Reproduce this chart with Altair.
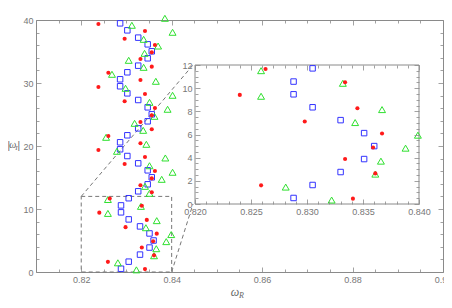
import altair as alt
import pandas as pd

# ---------------- data ----------------
red_x = [0.8341, 0.8259, 0.8361, 0.8334, 0.8359, 0.8367, 0.8298, 0.8345, 0.8240, 0.8334, 0.8263,
         0.8356, 0.8331, 0.8356, 0.8363, 0.8296, 0.8341, 0.8238, 0.8331, 0.8260, 0.8356, 0.8331,
         0.8356, 0.8363, 0.8296, 0.8341, 0.8238, 0.8331, 0.8260, 0.8356, 0.8331, 0.8356, 0.8363,
         0.8296, 0.8341, 0.8238]
red_y = [0.46, 1.61, 2.64, 3.88, 4.88, 6.09, 7.12, 8.27, 9.42, 10.51, 11.66,
         12.65, 13.76, 14.87, 16.03, 17.14, 18.25, 19.37, 20.43, 21.59, 22.65, 23.81,
         24.87, 26.03, 27.10, 28.25, 29.37, 30.48, 31.63, 32.59, 33.81, 34.87, 36.03,
         37.03, 38.25, 39.37]

blue_x = [0.8288, 0.8305, 0.8330, 0.8351, 0.8360, 0.8351, 0.8330, 0.8305, 0.8288, 0.8288, 0.8305,
          0.8326, 0.8347, 0.8356, 0.8347, 0.8326, 0.8302, 0.8286, 0.8286, 0.8302, 0.8326, 0.8347,
          0.8356, 0.8347, 0.8326, 0.8302, 0.8286, 0.8286, 0.8302, 0.8326, 0.8347, 0.8356, 0.8347,
          0.8326, 0.8302, 0.8286]
blue_y = [0.52, 1.64, 2.76, 3.88, 5.00, 6.12, 7.24, 8.35, 9.47, 10.57, 11.71,
          12.81, 13.92, 15.03, 16.14, 17.25, 18.41, 19.48, 20.59, 21.70, 22.80, 23.92,
          25.03, 26.14, 27.30, 28.36, 29.48, 30.59, 31.70, 32.75, 33.92, 35.03, 36.14,
          37.20, 38.36, 39.47]

green_x = [0.8322, 0.8281, 0.8361, 0.8366, 0.8388, 0.8399, 0.8343, 0.8367, 0.8259, 0.8332, 0.8259,
           0.8351, 0.8341, 0.8378, 0.8402, 0.8351, 0.8386, 0.8279, 0.8344, 0.8255, 0.8337, 0.8318,
           0.8362, 0.8391, 0.8351, 0.8402, 0.8298, 0.8365, 0.8268, 0.8338, 0.8305, 0.8340, 0.8370,
           0.8338, 0.8402, 0.8312, 0.8385]
green_y = [0.34, 1.46, 2.58, 3.70, 4.82, 5.94, 7.03, 8.15, 9.30, 10.42, 11.51,
           12.49, 13.60, 14.71, 15.83, 16.87, 18.10, 19.16, 20.27, 21.38, 22.49, 23.60,
           24.71, 25.83, 26.93, 28.05, 29.16, 30.27, 31.38, 32.49, 33.60, 34.71, 35.87,
           36.93, 38.05, 39.16, 40.27]

# axis ticks
main_x_ticks = [0.810, 0.815, 0.820, 0.825, 0.830, 0.835, 0.840, 0.845, 0.850, 0.855, 0.860,
                0.865, 0.870, 0.875, 0.880, 0.885, 0.890, 0.895, 0.900]
main_y_ticks = [0, 2, 4, 6, 8, 10, 12, 14, 16, 18, 20, 22, 24, 26, 28, 30, 32, 34, 36, 38, 40]
inset_x_ticks = [0.820, 0.821, 0.822, 0.823, 0.824, 0.825, 0.826, 0.827, 0.828, 0.829, 0.830,
                 0.831, 0.832, 0.833, 0.834, 0.835, 0.836, 0.837, 0.838, 0.839, 0.840]
inset_y_ticks = [0, 0.5, 1, 1.5, 2, 2.5, 3, 3.5, 4, 4.5, 5, 5.5, 6, 6.5, 7, 7.5, 8, 8.5, 9, 9.5,
                 10, 10.5, 11, 11.5, 12]

# zoom region & domains
main_x_domain = [0.81, 0.90]
main_y_domain = [0, 40]
zoom_x = [0.82, 0.84]
zoom_y = [0, 12]

# ---------------- layout ----------------
W, H = 407, 252
IN_L, IN_R, IN_T, IN_B = 159, 383, 45, 184   # inset plot box, pixels in plot area

GRAY = "#8a8a8a"
LBL = "#777777"
FONT = "Liberation Sans"

red = pd.DataFrame({"x": red_x, "y": red_y})
blue = pd.DataFrame({"x": blue_x, "y": blue_y})
green = pd.DataFrame({"x": green_x, "y": green_y})

mx = alt.Scale(domain=main_x_domain, nice=False, zero=False)
my = alt.Scale(domain=main_y_domain, nice=False, zero=False)
ix = alt.Scale(domain=zoom_x, range=[IN_L, IN_R], nice=False, zero=False)
iy = alt.Scale(domain=zoom_y, range=[IN_B, IN_T], nice=False, zero=False)


def axis(values, major_test, fmt, orient, offset=0, labels=True, pad=8):
    kw = dict(
        values=values, orient=orient, offset=offset, title=None, grid=False, domain=False,
        labels=labels, labelOverlap=False, labelFlush=False, labelColor=LBL, labelFont=FONT,
        labelFontSize=9, tickColor=GRAY, tickWidth=0.8,
        tickSize={"condition": {"test": major_test, "value": -5}, "value": -3},
        zindex=1,
    )
    if labels:
        kw["labelExpr"] = f"({major_test}) ? format(datum.value, '{fmt}') : ''"
        kw["labelPadding"] = pad
    return alt.Axis(**kw)


mx_major = "abs(datum.value*50 - round(datum.value*50)) < 0.001"
my_major = "abs(datum.value/10 - round(datum.value/10)) < 0.001"
ix_major = "abs(datum.value*200 - round(datum.value*200)) < 0.001"
iy_major = "abs(datum.value/2 - round(datum.value/2)) < 0.001"

ax_main_b = axis(main_x_ticks, mx_major, ".2f", "bottom")
ax_main_l = axis(main_y_ticks, my_major, "d", "left")
ax_main_t = axis(main_x_ticks, mx_major, ".2f", "top", labels=False)
ax_main_r = axis(main_y_ticks, my_major, "d", "right", labels=False)

ax_in_b = axis(inset_x_ticks, ix_major, ".3f", "bottom", offset=-(H - IN_B))
ax_in_l = axis(inset_y_ticks, iy_major, "d", "left", offset=-IN_L)
ax_in_t = axis(inset_x_ticks, ix_major, ".3f", "top", offset=-IN_T, labels=False)
ax_in_r = axis(inset_y_ticks, iy_major, "d", "right", offset=-(W - IN_R), labels=False)


def series(df, scx, scy, axx, axy, kind):
    if kind == "red":
        m = alt.Chart(df).mark_circle(color="#ff1a1a", size=17, opacity=1)
    elif kind == "blue":
        m = alt.Chart(df).mark_point(shape="square", filled=False, color="#3333ff",
                                     size=30, strokeWidth=1, opacity=1)
    else:
        m = alt.Chart(df).mark_point(shape="triangle-up", filled=False, color="#2fe02f",
                                     size=48, strokeWidth=1, opacity=1)
    return m.encode(x=alt.X("x:Q", scale=scx, axis=axx), y=alt.Y("y:Q", scale=scy, axis=axy))


# ---- main panel ----
zoom_box = pd.DataFrame({"x": [zoom_x[0]], "x2": [zoom_x[1]], "y": [zoom_y[0]], "y2": [zoom_y[1]]})
box_main = alt.Chart(zoom_box).mark_rect(fill=None, stroke="#777777", strokeDash=[4, 3],
                                         strokeWidth=1).encode(
    x=alt.X("x:Q", scale=mx, axis=ax_main_b), x2="x2:Q",
    y=alt.Y("y:Q", scale=my, axis=ax_main_l), y2="y2:Q")

# inset corners expressed in main-data coordinates
cx = main_x_domain[0] + (IN_L - 2) / W * (main_x_domain[1] - main_x_domain[0])
cy_top = main_y_domain[1] - IN_T / H * (main_y_domain[1] - main_y_domain[0])
cy_bot = main_y_domain[1] - IN_B / H * (main_y_domain[1] - main_y_domain[0])
conn = pd.DataFrame({"x": [zoom_x[0], zoom_x[1]], "y": [zoom_y[1], zoom_y[0]],
                     "x2": [cx, cx], "y2": [cy_top, cy_bot]})
connectors = alt.Chart(conn).mark_rule(color="#777777", strokeDash=[4, 3], strokeWidth=1).encode(
    x=alt.X("x:Q", scale=mx, axis=ax_main_b), x2="x2:Q",
    y=alt.Y("y:Q", scale=my, axis=ax_main_l), y2="y2:Q")

one = pd.DataFrame({"a": [0]})


def txt(s, px, py, size, italic=True, font="Liberation Serif"):
    return alt.Chart(one).mark_text(text=s, fontSize=size, font=font, color="#666666",
                                    fontStyle="italic" if italic else "normal",
                                    align="center", baseline="middle").encode(
        x=alt.value(px), y=alt.value(py))


titles = [
    txt("ω", 199, 272, 12), txt("R", 205.5, 275.5, 8),
    txt("|", -27.3, 126, 10, italic=False, font=FONT), txt("ω", -23.3, 125, 10),
    txt("I", -19.5, 128, 7), txt("|", -17.2, 126, 10, italic=False, font=FONT),
]

main_marks = alt.layer(
    box_main, connectors,
    series(blue, mx, my, ax_main_b, ax_main_l, "blue"),
    series(green, mx, my, ax_main_b, ax_main_l, "green"),
    series(red, mx, my, ax_main_b, ax_main_l, "red"),
    *titles,
)
main_frame = alt.Chart(red).mark_point(opacity=0).encode(
    x=alt.X("x:Q", scale=mx, axis=ax_main_t), y=alt.Y("y:Q", scale=my, axis=ax_main_r))
main = alt.layer(main_marks, main_frame).resolve_axis(x="independent", y="independent")

# ---- inset panel ----
bg = alt.Chart(zoom_box).mark_rect(fill="white", stroke=GRAY, strokeWidth=1).encode(
    x=alt.X("x:Q", scale=ix, axis=ax_in_b), x2="x2:Q",
    y=alt.Y("y:Q", scale=iy, axis=ax_in_l), y2="y2:Q")


def inset_series(df, kind):
    return series(df, ix, iy, ax_in_b, ax_in_l, kind).transform_filter(
        f"datum.y <= {zoom_y[1]} && datum.x >= {zoom_x[0]} && datum.x <= {zoom_x[1]}")


inset_marks = alt.layer(bg, inset_series(blue, "blue"), inset_series(green, "green"),
                        inset_series(red, "red"))
inset_frame = alt.Chart(red).mark_point(opacity=0).encode(
    x=alt.X("x:Q", scale=ix, axis=ax_in_t), y=alt.Y("y:Q", scale=iy, axis=ax_in_r))
inset = alt.layer(inset_marks, inset_frame).resolve_axis(x="independent", y="independent")

chart = alt.layer(main, inset).resolve_scale(x="independent", y="independent").properties(
    width=W, height=H, autosize="none",
    padding={"left": 28, "top": 12, "right": 1, "bottom": 28},
).configure_view(stroke=GRAY, strokeWidth=1)

chart.save("out.html", embed_options={"renderer": "svg", "actions": False})
